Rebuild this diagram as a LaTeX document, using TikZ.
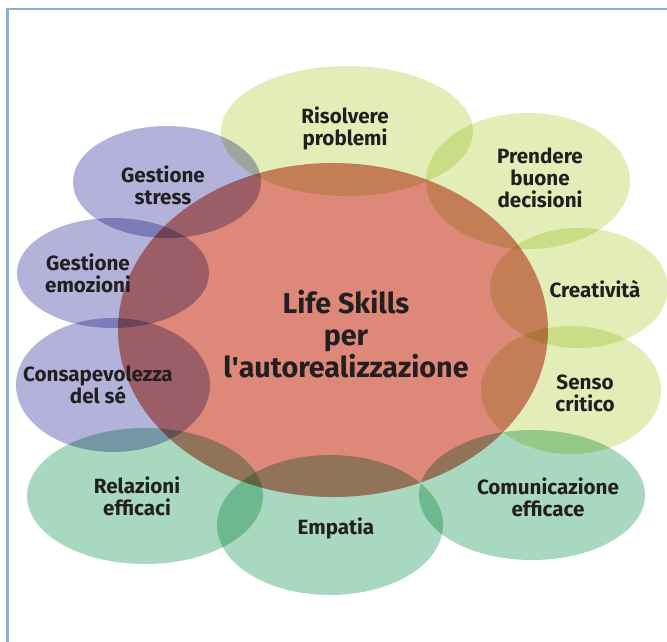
\documentclass[tikz,border=0pt]{standalone}
\usepackage{fontspec}
\setmainfont{Fira Sans}
\usetikzlibrary{shapes.geometric}

\definecolor{frameblue}{RGB}{140,176,216}
\definecolor{selfblue}{RGB}{179,178,218}
\definecolor{thinkgreen}{RGB}{227,237,184}
\definecolor{socialgreen}{RGB}{168,217,192}
\definecolor{corered}{RGB}{221,136,120}
\definecolor{inkgray}{RGB}{35,31,32}

\tikzset{
  bubble/.style={ellipse,fill=#1,draw=none,inner sep=0pt},
  lbl/.style={font=\bfseries\fontsize{17.6}{18.9}\selectfont,text=inkgray,align=center},
  title/.style={font=\bfseries\fontsize{24.5}{27}\selectfont,text=inkgray,align=center},
}

\begin{document}
\begin{tikzpicture}[x=0.03cm,y=-0.03cm]
  \useasboundingbox (0,0) rectangle (667,642);
  \fill[white] (0,0) rectangle (667,642);
  \draw[frameblue,line width=2.1pt] (7.5,642) -- (7.5,9) -- (667,9);

  \begin{scope}[blend group=multiply]
    % self management
    \node[bubble=selfblue,minimum width=5.64cm,minimum height=3.36cm] (stress) at (167,182) {};
    \node[bubble=selfblue,minimum width=5.76cm,minimum height=3.3cm] (emozioni) at (113,273) {};
    \node[bubble=selfblue,minimum width=5.82cm,minimum height=4.02cm] (sé) at (113,385) {};
    % thinking skills
    \node[bubble=thinkgreen,minimum width=7.56cm,minimum height=3.9cm] (problemi) at (347,131) {};
    \node[bubble=thinkgreen,minimum width=6.12cm,minimum height=4.08cm] (decisioni) at (528,181) {};
    \node[bubble=thinkgreen,minimum width=5.34cm,minimum height=3.6cm] (creativ) at (579,288) {};
    \node[bubble=thinkgreen,minimum width=5.4cm,minimum height=3.84cm] (critico) at (571,390) {};
    % relational skills
    \node[bubble=socialgreen,minimum width=6.78cm,minimum height=3.9cm] (comunic) at (532,495) {};
    \node[bubble=socialgreen,minimum width=6.78cm,minimum height=4.2cm] (empatia) at (330,525) {};
    \node[bubble=socialgreen,minimum width=7.08cm,minimum height=4.08cm] (relaz) at (145,496) {};
    % core
    \node[bubble=corered,minimum width=12.9cm,minimum height=10.02cm] (core) at (333,330) {};
  \end{scope}

  \node[lbl] (tstress) at (163,185) {Gestione\\stress};
  \node[lbl] (temozioni) at (88,273) {Gestione\\emozioni};
  \node[lbl] (tse) at (98,385) {Consapevolezza\\del sé};
  \node[lbl] (tproblemi) at (345,128) {Risolvere\\problemi};
  \node[lbl] (tdecisioni) at (540,178) {Prendere\\buone\\decisioni};
  \node[lbl] (tcreativ) at (595,289) {Creatività};
  \node[lbl] (tcritico) at (585,393) {Senso\\critico};
  \node[lbl] (tcomunic) at (548,497) {Comunicazione\\efficace};
  \node[lbl] (tempatia) at (336,528) {Empatia};
  \node[lbl] (trelaz) at (137,496) {Relazioni\\efficaci};
  \node[title] (tcore) at (346,334) {Life Skills\\per\\l\textquotesingle autorealizzazione};
\end{tikzpicture}
\end{document}
